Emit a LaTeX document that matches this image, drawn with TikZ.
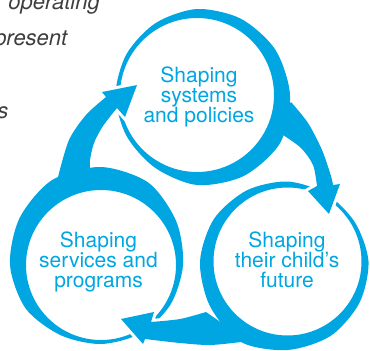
\documentclass[tikz,border=0pt]{standalone}
\usepackage{fontspec}
\setmainfont{TeX Gyre Heros}
\definecolor{cyc}{RGB}{0,166,226}
\definecolor{txtgray}{RGB}{62,62,62}
\begin{document}
\begin{tikzpicture}[x=1pt,y=-1pt]
\tikzset{
  ringfill/.style={fill=cyc, even odd rule},
  halo/.style={draw=white, line width=6pt, line join=miter},
  cyctext/.style={text=cyc, font=\fontsize{21}{20}\selectfont, anchor=base, inner sep=0pt},
  graytext/.style={text=txtgray, font=\fontsize{22}{26}\selectfont\itshape, anchor=base east, inner sep=0pt}
}
\useasboundingbox (0,0) rectangle (370,351);

% cropped paragraph text
\node[graytext] (g1) at (100,9.5) {operating};
\node[graytext] (g2) at (67.5,45.5) {present};
\node[graytext] (g3) at (8.5,118) {s};

% ring T
\foreach \a/\w in {0/16,30/13.5,60/11,90/9,120/6,150/4.5,180/4.5,210/4.5,240/7,270/13,300/16.5,330/19}
  \coordinate (T\a) at ({197+(77+\w)*cos(\a)},{95-(77+\w)*sin(\a)});
\fill[ringfill] plot[smooth cycle] coordinates {(T0)(T30)(T60)(T90)(T120)(T150)(T180)(T210)(T240)(T270)(T300)(T330)} (197,95) circle[radius=77];

% ring L
\foreach \a/\w in {0/7,30/12,60/20,90/23,120/23,150/19,180/16,210/12,240/6,270/4,300/4,330/5}
  \coordinate (L\a) at ({101+(75+\w)*cos(\a)},{265-(75+\w)*sin(\a)});
\fill[ringfill] plot[smooth cycle] coordinates {(L0)(L30)(L60)(L90)(L120)(L150)(L180)(L210)(L240)(L270)(L300)(L330)} (101,265) circle[radius=75];

% ring R
\foreach \a/\w in {0/7,30/4,60/4,90/6,120/8,150/11,180/13.5,210/15.5,240/19,270/14.5,300/12,330/9}
  \coordinate (R\a) at ({287.5+(74+\w)*cos(\a)},{261.5-(74+\w)*sin(\a)});
\fill[ringfill] plot[smooth cycle] coordinates {(R0)(R30)(R60)(R90)(R120)(R150)(R180)(R210)(R240)(R270)(R300)(R330)} (287.5,261.5) circle[radius=74];

% arrow T -> R
\def\bandTR{plot[smooth] coordinates {(291,102) (308,123) (322,150) (331,176) (333,185)} -- (340,184) -- (329,214) -- (308,191) -- plot[smooth] coordinates {(317,186) (313,165) (301,148) (283,135)} -- (272,122) -- cycle}
\begin{scope}
  \clip (296,150) rectangle (370,230);
  \draw[halo] \bandTR;
\end{scope}
\fill[cyc] \bandTR;

% arrow R -> L
\def\bandRL{plot[smooth] coordinates {(241,342) (210,345) (180,343) (145,339)} -- (143,344) -- (121,319) -- (154,312) -- plot[smooth] coordinates {(151,322) (180,319) (206,312)} -- (232,330) -- cycle}
\begin{scope}
  \clip (0,300) rectangle (196,351);
  \draw[halo] \bandRL;
\end{scope}
\fill[cyc] \bandRL;

% arrow L -> T
\def\bandLT{plot[smooth] coordinates {(58,177) (69,140) (86,115) (106,97)} -- (102,92) -- (137,85) -- (125,117) -- plot[smooth] coordinates {(117,108) (103,126) (94,143) (90,160) (90,168)} -- (75,182) -- cycle}
\begin{scope}
  \clip (0,0) rectangle (160,126);
  \draw[halo] \bandLT;
\end{scope}
\fill[cyc] \bandLT;

% labels
\node[cyctext] (t1) at (199,82) {Shaping};
\node[cyctext] (t2) at (199,102) {systems};
\node[cyctext] (t3) at (199,122) {and policies};
\node[cyctext] (l1) at (98.5,247) {Shaping};
\node[cyctext] (l2) at (98.5,267) {services and};
\node[cyctext] (l3) at (98.5,287) {programs};
\node[cyctext] (r1) at (287,247) {Shaping};
\node[cyctext] (r2) at (287,267) {their child’s};
\node[cyctext] (r3) at (287,287) {future};
\end{tikzpicture}
\end{document}
